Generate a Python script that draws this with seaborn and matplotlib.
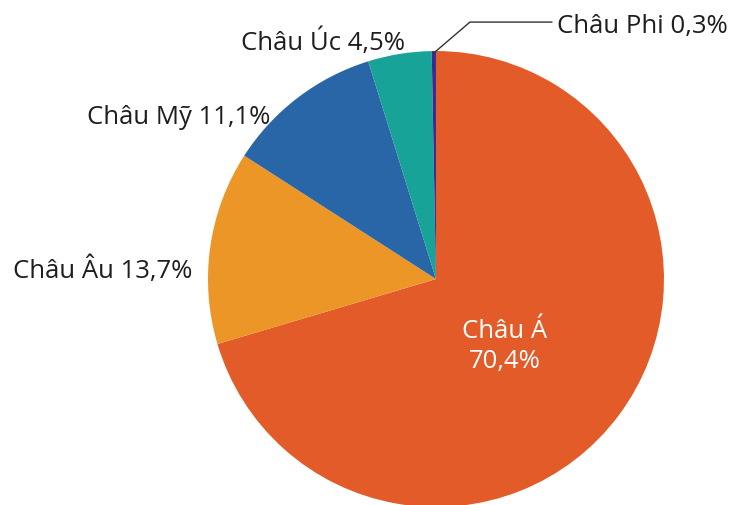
import matplotlib
matplotlib.use("Agg")
from matplotlib import pyplot as plt
import seaborn as sns

# share of something by continent
continents = ["Châu Á", "Châu Âu", "Châu Mỹ", "Châu Úc", "Châu Phi"]
shares = [70.4, 13.7, 11.1, 4.5, 0.3]
share_labels = ["70,4%", "13,7%", "11,1%", "4,5%", "0,3%"]
colors = ["#E35B28", "#EC9627", "#2966A8", "#17A397", "#3A2C8E"]

sns.set_theme(style="white")
plt.rcParams["font.family"] = ["Open Sans", "DejaVu Sans"]

fig = plt.figure(figsize=(7.29, 5.06), dpi=100)
# pie centre ~ (436, 280) px, radius ~228 px
ax = fig.add_axes([0.2853, -0.0040, 0.6255, 0.9012])
ax.pie(shares, colors=colors, startangle=90, counterclock=False,
       radius=1, wedgeprops=dict(linewidth=0))
ax.set_xlim(-1, 1)
ax.set_ylim(-1, 1)
ax.set_aspect("equal")
ax.axis("off")

fs = 18.5
txt = "#1e1e1e"
ax.text(0.303, -0.29, f"{continents[0]}\n{share_labels[0]}", color="white",
        fontsize=fs, ha="center", va="center", linespacing=1.25)
ax.text(-1.07, 0.044, f"{continents[1]} {share_labels[1]}", color=txt,
        fontsize=fs, ha="right", va="center", clip_on=False)
ax.text(-0.728, 0.711, f"{continents[2]} {share_labels[2]}", color=txt,
        fontsize=fs, ha="right", va="center", clip_on=False)
ax.text(-0.136, 1.044, f"{continents[3]} {share_labels[3]}", color=txt,
        fontsize=fs, ha="right", va="center", clip_on=False)
ax.text(0.531, 1.11, f"{continents[4]} {share_labels[4]}", color=txt,
        fontsize=fs, ha="left", va="center", clip_on=False)
ax.plot([-0.004, 0.149, 0.509], [0.996, 1.127, 1.127], color="#333333",
        lw=1, clip_on=False)

fig.savefig("out.png", dpi=100)
